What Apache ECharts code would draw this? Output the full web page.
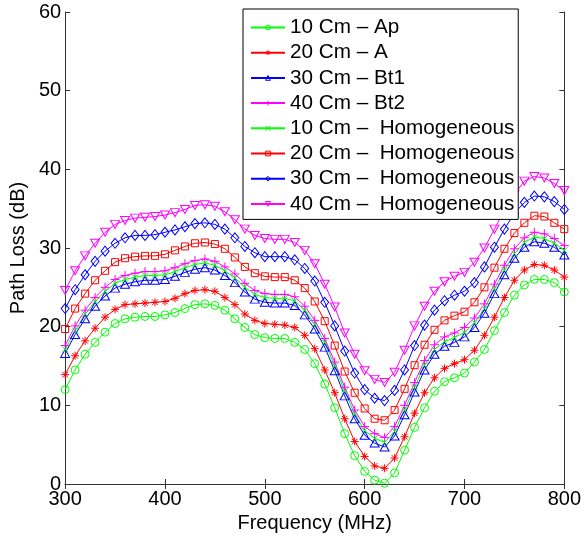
<!DOCTYPE html>
<html>
<head>
<meta charset="utf-8">
<script src="https://cdn.jsdelivr.net/npm/echarts@6/dist/echarts.min.js"></script>
<style>html,body{margin:0;padding:0;background:#fff;}#c{width:584px;height:539px;}</style>
</head>
<body>
<div id="c"></div>
<script>
var freqs = [300,310,320,330,340,350,360,370,380,390,400,410,420,430,440,450,460,470,480,490,500,510,520,530,540,550,560,570,580,590,600,610,620,630,640,650,660,670,680,690,700,710,720,730,740,750,760,770,780,790,800];
var xTicks = [300,400,500,600,700,800];
var yTicks = [0,10,20,30,40,50,60];

var ap10 = [12.0,14.5,16.5,18.0,19.3,20.4,21.0,21.2,21.3,21.3,21.5,21.8,22.3,22.8,22.9,22.7,22.1,21.0,19.9,19.0,18.6,18.5,18.5,18.0,17.1,15.3,12.7,9.7,6.4,3.6,1.6,0.5,0.1,1.4,4.3,7.2,9.7,11.8,13.0,13.5,14.1,15.5,17.1,19.5,21.8,24.0,25.3,26.0,26.0,25.6,24.4];
var a20 = [13.9,16.3,18.2,19.8,21.2,22.2,22.8,22.9,23.0,23.1,23.2,23.6,24.2,24.6,24.7,24.5,23.7,22.8,21.6,20.8,20.4,20.3,20.2,19.9,18.9,17.2,14.5,11.6,8.3,5.4,3.5,2.3,2.0,3.3,6.0,9.0,11.6,13.5,14.7,15.3,15.8,17.0,18.9,21.2,23.7,25.9,27.2,27.9,27.8,27.2,26.3];
var bt1_30 = [16.6,19.0,21.0,22.6,23.9,24.9,25.4,25.7,25.9,25.9,26.0,26.4,26.9,27.3,27.5,27.2,26.5,25.6,24.4,23.5,23.1,23.0,23.0,22.7,21.5,19.7,17.4,14.4,11.2,8.3,6.2,5.2,4.7,6.1,8.8,11.7,14.5,16.5,17.5,18.0,18.7,19.9,21.7,24.2,26.6,28.7,30.1,30.8,30.6,30.1,29.1];
var bt2_40 = [17.6,20.1,22.1,23.7,25.0,26.0,26.5,26.8,27.0,27.0,27.1,27.5,28.0,28.4,28.6,28.3,27.6,26.7,25.5,24.6,24.2,24.1,24.1,23.8,22.6,20.8,18.5,15.5,12.3,9.4,7.3,6.4,5.9,7.3,10.0,12.9,15.7,17.7,18.7,19.2,19.9,21.1,22.9,25.4,27.8,29.9,31.3,32.0,31.8,31.2,30.3];
var homo10 = [17.1,19.5,21.6,23.2,24.5,25.5,26.0,26.3,26.5,26.5,26.6,27.0,27.5,27.9,28.1,27.8,27.1,26.2,25.0,24.1,23.7,23.6,23.6,23.3,22.1,20.3,18.0,15.0,11.8,8.9,6.8,5.8,5.3,6.7,9.4,12.3,15.1,17.1,18.1,18.6,19.3,20.5,22.3,24.8,27.2,29.3,30.7,31.4,31.2,30.6,29.7];
var homo20 = [19.7,22.3,24.2,25.9,27.1,28.2,28.7,28.9,29.0,29.0,29.2,29.7,30.2,30.6,30.7,30.5,29.9,28.8,27.6,26.8,26.4,26.3,26.3,25.9,24.9,23.2,20.7,17.6,14.3,11.6,9.6,8.3,8.1,9.4,12.1,15.1,17.7,19.6,20.8,21.4,21.9,23.1,25.0,27.5,29.9,31.9,33.2,34.1,34.0,33.2,32.4];
var homo30 = [22.3,24.7,26.6,28.3,29.6,30.6,31.3,31.6,31.6,31.7,32.0,32.3,32.7,33.1,33.2,33.0,32.4,31.3,30.2,29.4,28.9,28.9,28.9,28.5,27.4,25.8,23.1,20.1,16.9,14.1,12.0,10.9,10.6,11.9,14.5,17.6,20.2,22.1,23.3,24.0,24.5,25.6,27.6,30.1,32.4,34.4,35.8,36.6,36.5,35.9,34.9];
var homo40 = [24.6,27.1,29.0,30.6,32.0,33.0,33.5,33.8,33.9,34.0,34.2,34.5,34.9,35.4,35.5,35.3,34.6,33.6,32.4,31.6,31.2,31.1,31.1,30.7,29.7,28.0,25.4,22.5,19.2,16.5,14.4,13.3,12.9,14.2,17.0,20.1,22.6,24.5,25.7,26.4,26.9,28.2,30.0,32.4,34.8,36.8,38.5,39.1,38.9,38.2,37.3];

var names = ['10 Cm \u2013 Ap','20 Cm \u2013 A','30 Cm \u2013 Bt1','40 Cm \u2013 Bt2','10 Cm \u2013  Homogeneous','20 Cm \u2013  Homogeneous','30 Cm \u2013  Homogeneous','40 Cm \u2013  Homogeneous'];
var values = [ap10,a20,bt1_30,bt2_40,homo10,homo20,homo30,homo40];
var colors = ['#00ff00','#ff0000','#0000ff','#ff00ff','#00ff00','#ff0000','#0000ff','#ff00ff'];
var symbols = [
  'circle',
  'path://M5,0L5,10M0,5L10,5M1.5,1.5L8.5,8.5M8.5,1.5L1.5,8.5',
  'triangle',
  'path://M5,0L5,10M0,5L10,5',
  'path://M0,0L10,10M10,0L0,10',
  'rect',
  'diamond',
  'path://M0,0L10,0L5,8.66Z'
];
var sizes = [8,8,[9,8],9,6,7,[8,10],[9,8]];

var FONT = '"Liberation Sans", Arial, sans-serif';

var series = names.map(function(n,i){
  return {
    name: n,
    type: 'line',
    xAxisIndex: 0,
    yAxisIndex: 0,
    data: freqs.map(function(f,j){ return [f, values[i][j]]; }),
    symbol: symbols[i],
    symbolSize: sizes[i],
    showAllSymbol: true,
    animation: false,
    lineStyle: {color: colors[i], width: 1},
    itemStyle: {color: 'rgba(255,255,255,0)', borderColor: colors[i], borderWidth: 1},
    emphasis: {disabled: true}
  };
});

var chart = echarts.init(document.getElementById('c'), null, {renderer: 'canvas'});
chart.setOption({
  animation: false,
  backgroundColor: '#fff',
  grid: {left: 65, right: 19, top: 12, bottom: 55, containLabel: false},
  legend: {
    orient: 'vertical',
    left: 243,
    top: 9,
    itemWidth: 34,
    itemHeight: 6,
    itemGap: 4.2,
    padding: [8, 4, 5, 7],
    borderColor: '#000',
    borderWidth: 1,
    backgroundColor: '#fff',
    itemStyle: {color: 'rgba(255,255,255,0)', borderWidth: 1},
    textStyle: {fontFamily: FONT, fontSize: 20.7, color: '#000', lineHeight: 20},
    data: names
  },
  xAxis: [{
    type: 'value', min: xTicks[0], max: xTicks[xTicks.length-1], interval: 100,
    position: 'bottom',
    name: 'Frequency (MHz)', nameLocation: 'middle', nameGap: 26,
    nameTextStyle: {fontFamily: FONT, fontSize: 20, color: '#000'},
    axisLine: {lineStyle: {color: '#333', width: 1}},
    axisTick: {inside: true, length: 5, lineStyle: {color: '#333'}},
    axisLabel: {fontFamily: FONT, fontSize: 20, color: '#000', margin: 5},
    splitLine: {show: false}
  },{
    type: 'value', min: xTicks[0], max: xTicks[xTicks.length-1], interval: 100,
    position: 'top',
    axisLine: {lineStyle: {color: '#333', width: 1}},
    axisTick: {inside: true, length: 5, lineStyle: {color: '#333'}},
    axisLabel: {show: false},
    splitLine: {show: false}
  }],
  yAxis: [{
    type: 'value', min: yTicks[0], max: yTicks[yTicks.length-1], interval: 10,
    position: 'left',
    name: 'Path Loss (dB)', nameLocation: 'middle', nameGap: 28,
    nameTextStyle: {fontFamily: FONT, fontSize: 20, color: '#000'},
    axisLine: {show: true, lineStyle: {color: '#333', width: 1}},
    axisTick: {show: true, inside: true, length: 5, lineStyle: {color: '#333'}},
    axisLabel: {fontFamily: FONT, fontSize: 20, color: '#000', margin: 4},
    splitLine: {show: false}
  },{
    type: 'value', min: yTicks[0], max: yTicks[yTicks.length-1], interval: 10,
    position: 'right',
    axisLine: {show: true, lineStyle: {color: '#333', width: 1}},
    axisTick: {show: true, inside: true, length: 5, lineStyle: {color: '#333'}},
    axisLabel: {show: false},
    splitLine: {show: false}
  }],
  series: series
});
</script>
</body>
</html>
